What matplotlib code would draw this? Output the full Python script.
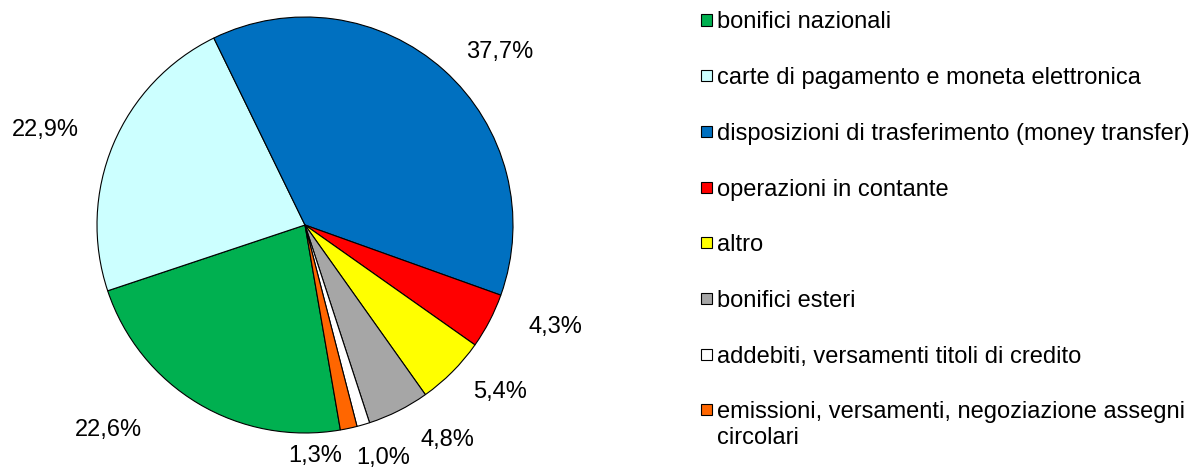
import numpy as np
import matplotlib.pyplot as plt
from matplotlib.patches import Rectangle

plt.rcParams['font.family'] = ['Liberation Sans', 'DejaVu Sans']

categories = [
    "bonifici nazionali",
    "carte di pagamento e moneta elettronica",
    "disposizioni di trasferimento (money transfer)",
    "operazioni in contante",
    "altro",
    "bonifici esteri",
    "addebiti, versamenti titoli di credito",
    "emissioni, versamenti, negoziazione assegni\ncircolari",
]
shares = [22.6, 22.9, 37.7, 4.3, 5.4, 4.8, 1.0, 1.3]
colors = ["#00B050", "#CCFFFF", "#0070C0", "#FF0000",
          "#FFFF00", "#A6A6A6", "#FFFFFF", "#FF6600"]

# label placement tweaks (angle offset in degrees, distance in radii)
label_nudge = [-13.0, 2.7, -6.6, 5.3, 4.3, 6.9, 2.3, -9.5]
label_dist = [1.365, 1.33, 1.253, 1.30, 1.235, 1.24, 1.18, 1.11]

W, H = 1198, 468
fig = plt.figure(figsize=(W / 100, H / 100), dpi=100)

cx, cy, R = 305, 225, 208
ax = fig.add_axes([(cx - R) / W, (H - cy - R) / H, 2 * R / W, 2 * R / H])

start = 279.8
wedges, _ = ax.pie(shares, colors=colors, startangle=start, counterclock=False,
                   radius=1, wedgeprops=dict(edgecolor="black", linewidth=0.8))
ax.set_xlim(-1, 1)
ax.set_ylim(-1, 1)
ax.set_aspect("equal")
ax.axis("off")

for w, v, dn, dr in zip(wedges, shares, label_nudge, label_dist):
    mid = np.deg2rad((w.theta1 + w.theta2) / 2 + dn)
    ax.text(dr * np.cos(mid), dr * np.sin(mid), f"{v:.1f}%".replace(".", ","),
            ha="center", va="center", fontsize=17, clip_on=False)

# legend drawn by hand to mimic the spreadsheet layout
row0, step, line_h = 20, 55.7, 26
sq = 11
for i, (lab, col) in enumerate(zip(categories, colors)):
    yc = row0 + i * step
    fig.patches.append(Rectangle((701 / W, (H - yc - sq / 2) / H), sq / W, sq / H,
                                 facecolor=col, edgecolor="black", linewidth=0.8,
                                 transform=fig.transFigure, figure=fig))
    for k, line in enumerate(lab.split("\n")):
        fig.text(717 / W, (H - yc - 8.5 - k * line_h) / H, line,
                 ha="left", va="baseline", fontsize=17)

fig.savefig("out.png", dpi=100)
